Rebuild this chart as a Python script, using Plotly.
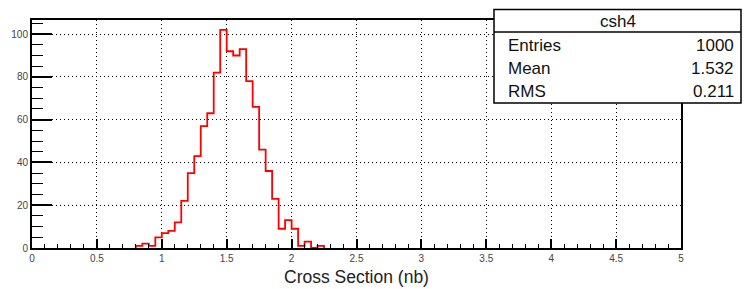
import plotly.graph_objects as go

# ---- data ----
bin_low = [0.80, 0.85, 0.90, 0.95, 1.00, 1.05, 1.10, 1.15, 1.20, 1.25,
           1.30, 1.35, 1.40, 1.45, 1.50, 1.55, 1.60, 1.65, 1.70, 1.75,
           1.80, 1.85, 1.90, 1.95, 2.00, 2.05, 2.10, 2.15, 2.20]
bin_width = 0.05
counts = [1, 2, 1, 5, 7, 8, 12, 22, 35, 43,
          57, 63, 82, 102, 92, 90, 93, 78, 66, 46,
          36, 23, 9, 13, 9, 1, 3, 0, 1]

x_range = [0, 5]
y_range = [0, 106.6]
x_title = "Cross Section (nb)"

stats_title = "csh4"
stats_names = ["Entries", "Mean", "RMS"]
stats_values = ["1000", "1.532", "0.211"]

# ---- build step outline ----
xs = [bin_low[0]] + bin_low + [bin_low[-1] + bin_width]
ys = [0] + counts + [0]

W, H = 744, 289
L, R, T, B = 32, 63, 20, 41
pw, ph = W - L - R, H - T - B

def px2paper_x(px):
    return (px - L) / pw

def px2paper_y(py):
    return (H - B - py) / ph

fig = go.Figure()
fig.add_trace(go.Scatter(
    x=xs, y=ys, mode="lines", line=dict(color="#ff0000", width=1.8, shape="hv"),
    hoverinfo="skip", showlegend=False))

font_fam = "Liberation Sans, Arial, Helvetica, sans-serif"

fig.update_layout(
    width=W, height=H, autosize=False,
    margin=dict(l=L, r=R, t=T, b=B, pad=0, autoexpand=False),
    paper_bgcolor="white", plot_bgcolor="white",
    font=dict(family=font_fam, color="#000"),
    showlegend=False,
    xaxis=dict(
        range=x_range, dtick=0.5, tick0=0, automargin=False,
        showline=True, linecolor="black", linewidth=2, mirror=True,
        ticks="inside", ticklen=9, tickwidth=1.5, tickcolor="black",
        minor=dict(dtick=0.1, ticks="inside", ticklen=4.5, tickwidth=1.2,
                   tickcolor="black", showgrid=False),
        showgrid=True, gridcolor="black", gridwidth=1, griddash="1px,3px",
        zeroline=False,
        tickfont=dict(size=10, color="#444", family=font_fam),
        title=dict(text=x_title, font=dict(size=17.5, color="#222"), standoff=8),
    ),
    yaxis=dict(
        range=y_range, dtick=20, tick0=0, automargin=False,
        showline=True, linecolor="black", linewidth=2, mirror=True,
        ticks="inside", ticklen=20, tickwidth=1.5, tickcolor="black",
        minor=dict(dtick=5, ticks="inside", ticklen=11, tickwidth=1.2,
                   tickcolor="black", showgrid=False),
        showgrid=True, gridcolor="black", gridwidth=1, griddash="1px,3px",
        zeroline=False,
        tickfont=dict(size=10, color="#444", family=font_fam),
    ),
)

# ---- stats box ----
bx0, bx1 = px2paper_x(494), px2paper_x(741)
by_top, by_bot = px2paper_y(9.5), px2paper_y(103)
by_sep = px2paper_y(32)
fig.add_shape(type="rect", xref="paper", yref="paper",
              x0=bx0, x1=bx1, y0=by_bot, y1=by_top,
              line=dict(color="black", width=1.5), fillcolor="white", layer="above")
fig.add_shape(type="line", xref="paper", yref="paper",
              x0=bx0, x1=bx1, y0=by_sep, y1=by_sep,
              line=dict(color="black", width=1.5), layer="above")
fig.add_annotation(xref="paper", yref="paper", x=px2paper_x(618), y=px2paper_y(21),
                   text=stats_title, showarrow=False, xanchor="center", yanchor="middle",
                   font=dict(size=17, color="#111"))
row_y = [45, 68, 91]
for name, val, ry in zip(stats_names, stats_values, row_y):
    fig.add_annotation(xref="paper", yref="paper", x=px2paper_x(506), y=px2paper_y(ry),
                       text=name, showarrow=False, xanchor="left", yanchor="middle",
                       font=dict(size=17, color="#111"))
    fig.add_annotation(xref="paper", yref="paper", x=px2paper_x(736), y=px2paper_y(ry),
                       text=val, showarrow=False, xanchor="right", yanchor="middle",
                       font=dict(size=17, color="#111"))

fig.write_html("out.html",
               config={"displayModeBar": False, "responsive": False},
               default_width=W, default_height=H,
               post_script="document.body.style.margin='0';document.body.style.padding='0';"
                           "document.documentElement.style.overflow='hidden';")
